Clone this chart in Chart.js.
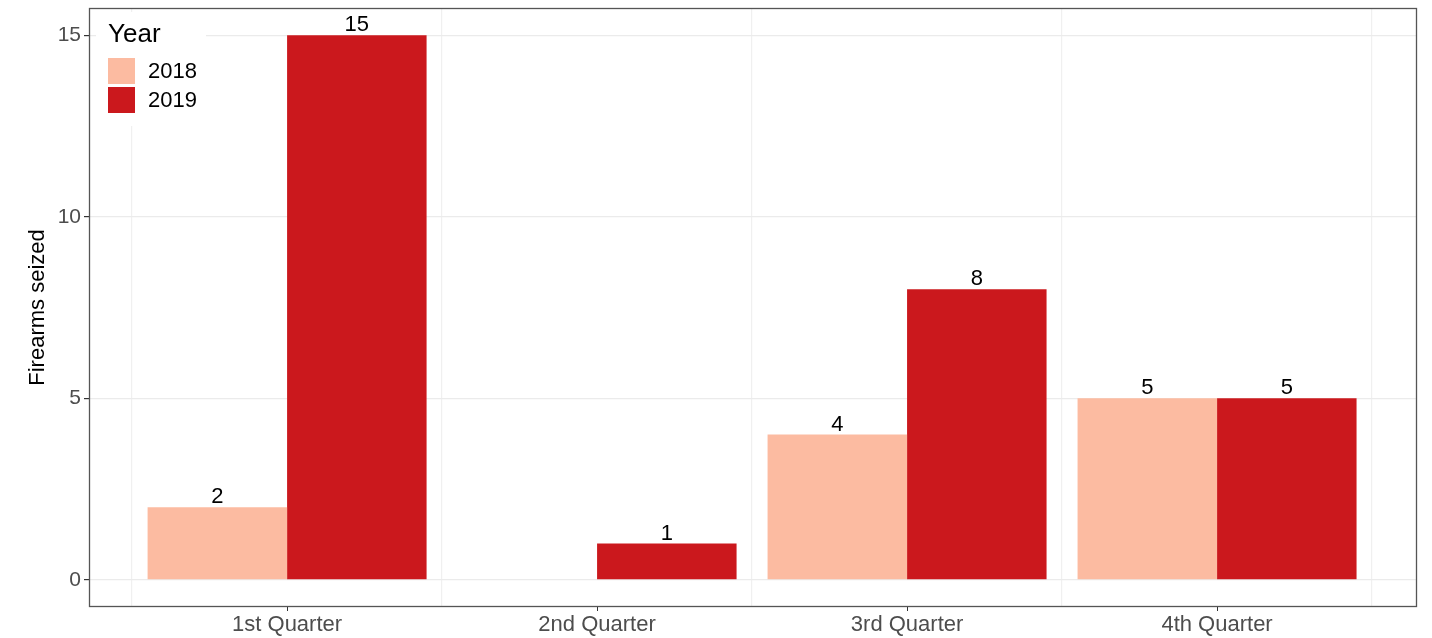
<!DOCTYPE html>
<html>
<head>
<meta charset="utf-8">
<script src="https://cdn.jsdelivr.net/npm/chart.js@4.4.0/dist/chart.umd.min.js"></script>
<style>
html,body{margin:0;padding:0;background:#fff;}
#wrap{width:1432px;height:638px;position:relative;}
</style>
</head>
<body>
<div id="wrap"><canvas id="c" width="1432" height="638"></canvas></div>
<script>
const quarters = ['1st Quarter', '2nd Quarter', '3rd Quarter', '4th Quarter'];
const years = ['2018', '2019'];
const seized2018 = [2, 0, 4, 5];
const seized2019 = [15, 1, 8, 5];
const yTicks = [0, 5, 10, 15];
const legendTitle = 'Year';
const yTitle = 'Firearms seized';

const colors = ['#FCBBA1', '#CB181D'];
const FONT = '"Liberation Sans", Arial, sans-serif';

const toPoints = arr => arr.map((v, i) => ({x: i + 1, y: v}));

const xMin = 0.361, xMax = quarters.length + 0.645;

const frame = {
  id: 'frame',
  afterDraw(chart) {
    const {ctx, chartArea: a} = chart;
    ctx.save();
    // legend background and legend
    ctx.fillStyle = '#fff';
    ctx.fillRect(96, 12, 110, 114);
    ctx.fillStyle = '#000';
    ctx.font = '26px ' + FONT;
    ctx.textBaseline = 'middle';
    ctx.textAlign = 'left';
    ctx.fillText(legendTitle, 108, 35);
    chart.data.datasets.forEach((ds, i) => {
      const y0 = 58 + i * 29;
      ctx.fillStyle = ds.backgroundColor;
      ctx.fillRect(108, y0, 27, 26);
      ctx.fillStyle = '#000';
      ctx.font = '22px ' + FONT;
      ctx.fillText(ds.label, 148, y0 + 14);
    });
    // panel border
    ctx.strokeStyle = '#555';
    ctx.lineWidth = 1.3;
    ctx.strokeRect(a.left + 0.5, a.top + 0.5, a.right - a.left - 1, a.bottom - a.top - 1);
    ctx.restore();
  },
  afterDatasetsDraw(chart) {
    const {ctx} = chart;
    ctx.save();
    ctx.fillStyle = '#000';
    ctx.font = '22px ' + FONT;
    ctx.textAlign = 'center';
    ctx.textBaseline = 'bottom';
    chart.data.datasets.forEach((ds, di) => {
      const meta = chart.getDatasetMeta(di);
      meta.data.forEach((bar, i) => {
        const v = ds.data[i].y;
        if (v === 0) return;
        ctx.fillText(String(v), bar.x, bar.y + 1);
      });
    });
    ctx.restore();
  }
};

const zeroPad = s => { s.paddingLeft = 0; s.paddingRight = 0; s.paddingTop = 0; s.paddingBottom = 0; };

new Chart(document.getElementById('c'), {
  type: 'bar',
  data: {
    datasets: years.map((yr, i) => ({
      label: yr,
      data: toPoints(i === 0 ? seized2018 : seized2019),
      backgroundColor: colors[i],
      borderWidth: 0,
      categoryPercentage: 0.9,
      barPercentage: 1.0
    }))
  },
  options: {
    responsive: false,
    animation: false,
    devicePixelRatio: 1,
    layout: {padding: {left: 0, right: 15, top: 8, bottom: 0}},
    plugins: {legend: {display: false}, tooltip: {enabled: false}},
    scales: {
      x: {
        type: 'linear',
        position: 'bottom',
        offset: false,
        min: xMin, max: xMax,
        afterBuildTicks: s => { s.ticks = quarters.map((q, i) => ({value: i + 1})); },
        afterFit: s => { s.height = 31; zeroPad(s); },
        ticks: {
          callback: (v) => quarters[Math.round(v) - 1] || '',
          color: '#4D4D4D',
          font: {family: FONT, size: 22},
          padding: 1,
          maxRotation: 0, autoSkip: false
        },
        grid: {offset: false, drawOnChartArea: false, drawTicks: true, tickLength: 4, tickColor: '#333', color: '#333'},
        border: {display: false}
      },
      xg: {
        type: 'linear',
        position: 'bottom',
        offset: false,
        min: xMin, max: xMax,
        afterBuildTicks: s => { s.ticks = quarters.concat(['']).map((q, i) => ({value: i + 0.5})); },
        afterFit: s => { s.height = 0; zeroPad(s); },
        ticks: {display: false},
        grid: {offset: false, color: '#F0F0F0', lineWidth: 1.2, drawTicks: false},
        border: {display: false}
      },
      y: {
        type: 'linear',
        min: -0.75, max: 15.75,
        afterBuildTicks: s => { s.ticks = yTicks.map(v => ({value: v})); },
        afterFit: s => { s.width = 89; zeroPad(s); },
        ticks: {color: '#4D4D4D', font: {family: FONT, size: 21}, padding: 3},
        grid: {color: '#EBEBEB', lineWidth: 1.2, tickLength: 5, tickColor: '#333'},
        border: {display: false},
        title: {display: true, text: yTitle, color: '#000', font: {family: FONT, size: 22}, padding: {top: 25, bottom: 0}}
      }
    }
  },
  plugins: [frame]
});
</script>
</body>
</html>
